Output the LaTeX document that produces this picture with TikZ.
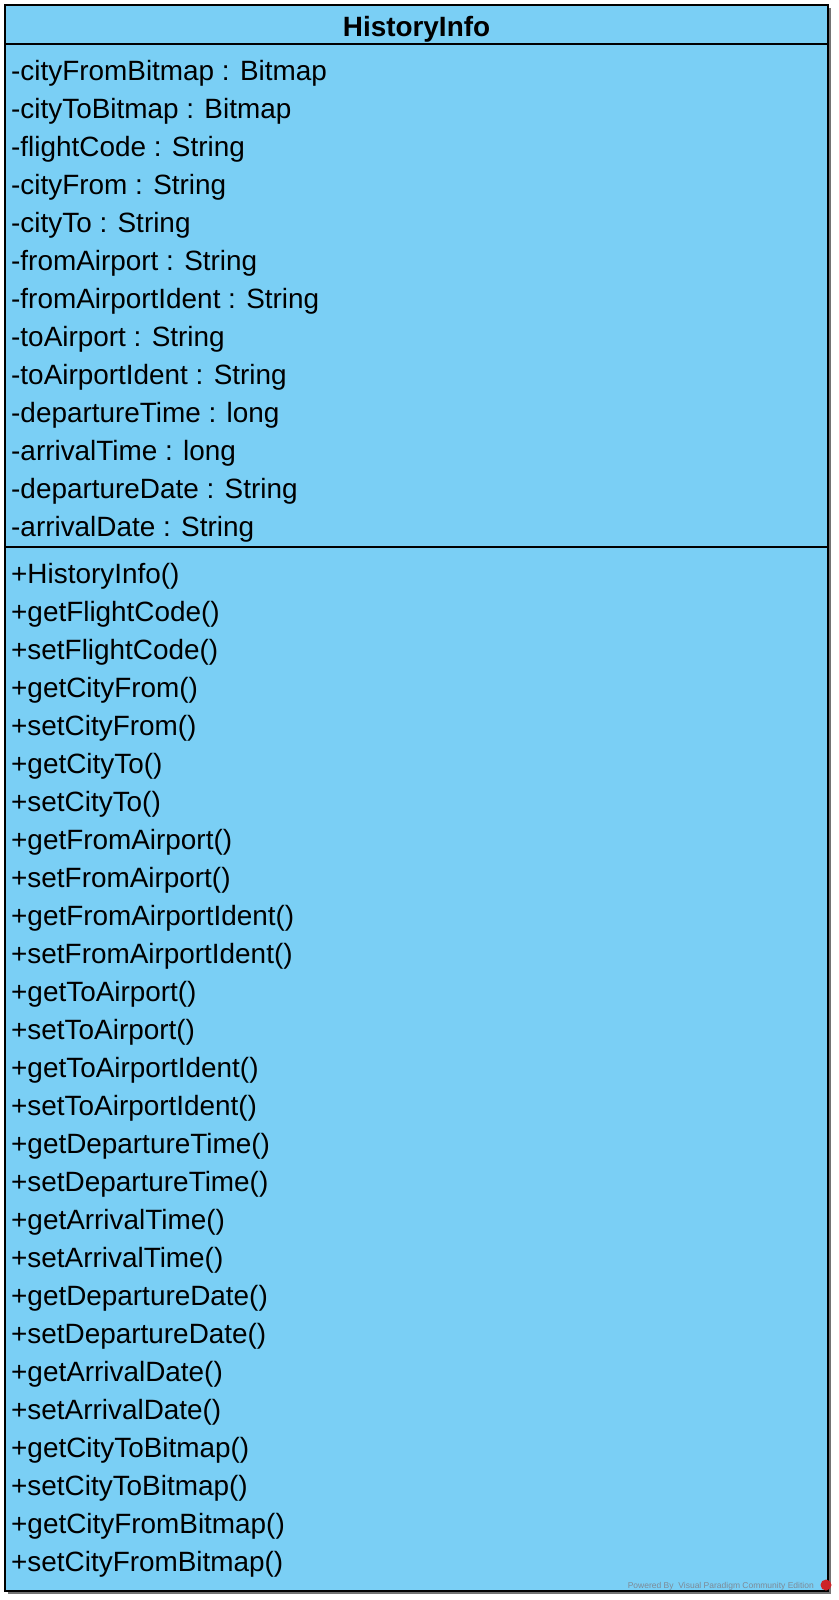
\documentclass[tikz,border=0pt]{standalone}
\usepackage{fontspec}
\setmainfont{Liberation Sans}

\definecolor{classblue}{RGB}{122,207,245}
\definecolor{markgray}{RGB}{125,138,150}
\definecolor{markred}{RGB}{205,35,40}

\tikzset{
  member/.style={anchor=west, inner sep=0pt, text height=0.72em, text depth=0pt,
    yshift=-6.5pt, font=\fontsize{27.9}{33}\selectfont},
  classname/.style={member, anchor=center, font=\fontsize{27.9}{33}\selectfont\bfseries},
  edge/.style={draw=black, line width=2.5pt},
}

\begin{document}
\begin{tikzpicture}[x=1pt, y=-1pt]
  \useasboundingbox (0,0) rectangle (838,1600);
  % Draw the class box
  \fill[black!55] (8,8) rectangle (831,1594);
  \filldraw[fill=classblue, edge] (5,5) rectangle (828,1591);
  \draw[edge] (5,44) -- (828,44);
  \draw[edge] (5,547) -- (828,547);
  % Class name
  \node[classname] (name) at (416.5,26) {HistoryInfo};
  % Attributes
  \node[member] (cityFromBitmap) at (11,70) {-cityFromBitmap : Bitmap};
  \node[member] (cityToBitmap) at (11,108) {-cityToBitmap : Bitmap};
  \node[member] (flightCode) at (11,146) {-flightCode : String};
  \node[member] (cityFrom) at (11,184) {-cityFrom : String};
  \node[member] (cityTo) at (11,222) {-cityTo : String};
  \node[member] (fromAirport) at (11,260) {-fromAirport : String};
  \node[member] (fromAirportIdent) at (11,298) {-fromAirportIdent : String};
  \node[member] (toAirport) at (11,336) {-toAirport : String};
  \node[member] (toAirportIdent) at (11,374) {-toAirportIdent : String};
  \node[member] (departureTime) at (11,412) {-departureTime : long};
  \node[member] (arrivalTime) at (11,450) {-arrivalTime : long};
  \node[member] (departureDate) at (11,488) {-departureDate : String};
  \node[member] (arrivalDate) at (11,526) {-arrivalDate : String};
  % Operations
  \node[member] (ctor) at (11,573) {+HistoryInfo()};
  \node[member] (getFlightCode) at (11,611) {+getFlightCode()};
  \node[member] (setFlightCode) at (11,649) {+setFlightCode()};
  \node[member] (getCityFrom) at (11,687) {+getCityFrom()};
  \node[member] (setCityFrom) at (11,725) {+setCityFrom()};
  \node[member] (getCityTo) at (11,763) {+getCityTo()};
  \node[member] (setCityTo) at (11,801) {+setCityTo()};
  \node[member] (getFromAirport) at (11,839) {+getFromAirport()};
  \node[member] (setFromAirport) at (11,877) {+setFromAirport()};
  \node[member] (getFromAirportIdent) at (11,915) {+getFromAirportIdent()};
  \node[member] (setFromAirportIdent) at (11,953) {+setFromAirportIdent()};
  \node[member] (getToAirport) at (11,991) {+getToAirport()};
  \node[member] (setToAirport) at (11,1029) {+setToAirport()};
  \node[member] (getToAirportIdent) at (11,1067) {+getToAirportIdent()};
  \node[member] (setToAirportIdent) at (11,1105) {+setToAirportIdent()};
  \node[member] (getDepartureTime) at (11,1143) {+getDepartureTime()};
  \node[member] (setDepartureTime) at (11,1181) {+setDepartureTime()};
  \node[member] (getArrivalTime) at (11,1219) {+getArrivalTime()};
  \node[member] (setArrivalTime) at (11,1257) {+setArrivalTime()};
  \node[member] (getDepartureDate) at (11,1295) {+getDepartureDate()};
  \node[member] (setDepartureDate) at (11,1333) {+setDepartureDate()};
  \node[member] (getArrivalDate) at (11,1371) {+getArrivalDate()};
  \node[member] (setArrivalDate) at (11,1409) {+setArrivalDate()};
  \node[member] (getCityToBitmap) at (11,1447) {+getCityToBitmap()};
  \node[member] (setCityToBitmap) at (11,1485) {+setCityToBitmap()};
  \node[member] (getCityFromBitmap) at (11,1523) {+getCityFromBitmap()};
  \node[member] (setCityFromBitmap) at (11,1561) {+setCityFromBitmap()};
  % Watermark
  \node[anchor=east, inner sep=0pt, text=markgray, font=\fontsize{8.5}{10}\selectfont]
    (mark) at (814,1586) {Powered By\ \ Visual Paradigm Community Edition};
  \node[circle, fill=markred, inner sep=0pt, minimum size=11pt] (logo) at (826,1585) {};
\end{tikzpicture}
\end{document}
